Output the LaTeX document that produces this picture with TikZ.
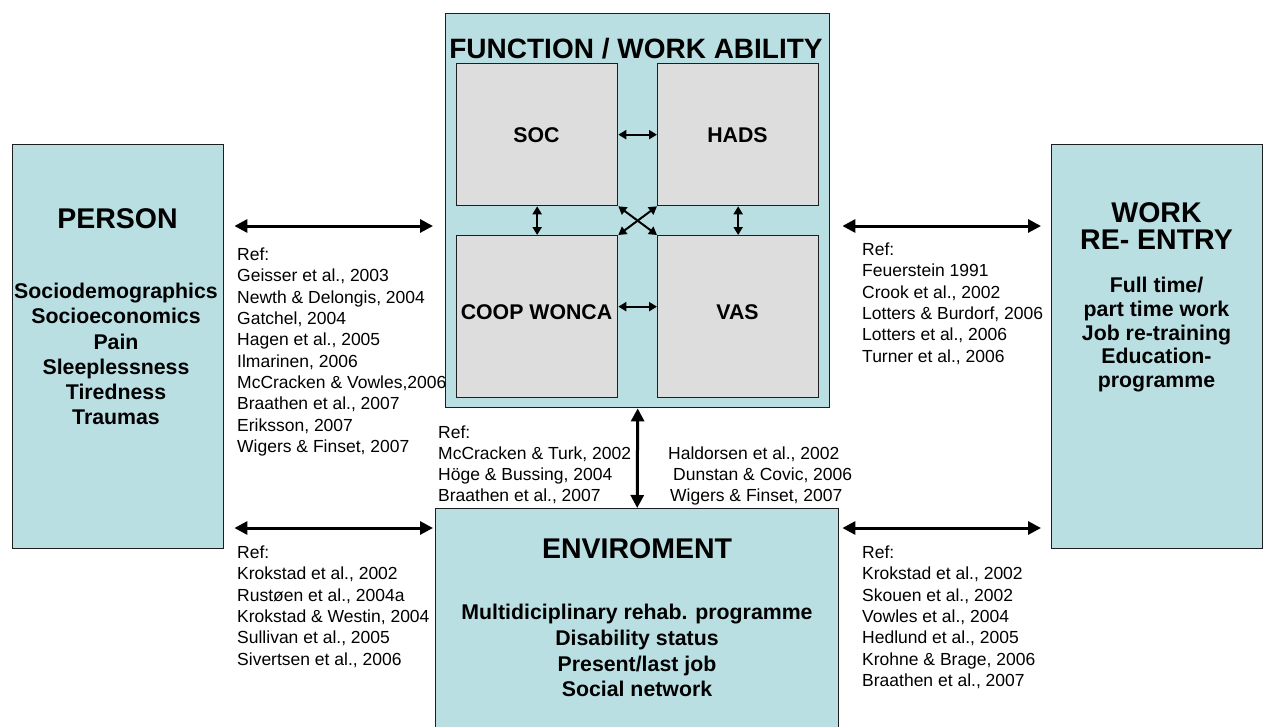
\documentclass[tikz,border=0pt]{standalone}
\usepackage{fontspec}
\setmainfont{Liberation Sans}
\usetikzlibrary{arrows.meta}
\definecolor{boxblue}{RGB}{186,223,227}
\definecolor{boxgray}{RGB}{221,221,221}
\definecolor{edgecol}{RGB}{30,30,30}
\begin{document}
\begin{tikzpicture}[x=1pt,y=-1pt,
  panel/.style={draw=edgecol, line width=1.4pt, fill=boxblue, inner sep=0pt, anchor=north west},
  innerbox/.style={draw=edgecol, line width=1.3pt, fill=boxgray, inner sep=0pt, anchor=north west, minimum width=161pt},
  bigarrow/.style={line width=3pt, {Triangle[length=13pt,width=13pt]}-{Triangle[length=13pt,width=13pt]}},
  smallarrow/.style={line width=2pt, {Triangle[length=8pt,width=9pt]}-{Triangle[length=8pt,width=9pt]}},
  reftext/.style={font=\fontsize{17.5}{21}\selectfont, anchor=base west, inner sep=0pt},
  headtext/.style={font=\bfseries\fontsize{28.5}{33}\selectfont, anchor=base, inner sep=0pt},
  itemtext/.style={font=\bfseries\fontsize{21.3}{25}\selectfont, anchor=base, inner sep=0pt}
]
\useasboundingbox (0,0) rectangle (1263,726);

% main boxes
\node[panel, minimum width=211pt, minimum height=404pt] (person) at (12,144) {};
\node[panel, minimum width=211pt, minimum height=404pt] (work) at (1051,144) {};
\node[panel, minimum width=384pt, minimum height=394pt] (func) at (445,13) {};
\node[panel, minimum width=403pt, minimum height=222pt] (env) at (435,508) {};

% inner boxes
\node[innerbox, minimum height=142pt] (soc) at (456,63) {};
\node[innerbox, minimum height=142pt] (hads) at (657,63) {};
\node[innerbox, minimum height=162pt] (coop) at (456,235) {};
\node[innerbox, minimum height=162pt] (vas) at (657,235) {};

% headings and labels
\node[headtext, font=\bfseries\fontsize{28}{33}\selectfont] (funcT) at (636,58.2) {FUNCTION / WORK ABILITY};
\node[itemtext] (socT) at (536.5,142.5) {SOC};
\node[itemtext] (hadsT) at (737.5,142.5) {HADS};
\node[itemtext] (coopT) at (536.5,319.5) {COOP WONCA};
\node[itemtext] (vasT) at (737.5,319.5) {VAS};

\node[headtext] (personT) at (117.5,228) {PERSON};
\foreach \t [count=\i] in {Sociodemographics, Socioeconomics, Pain, Sleeplessness, Tiredness, Traumas}
  \node[itemtext] (pitem\i) at (116,{298.7+25.2*(\i-1)}) {\t};

\node[headtext] (workT1) at (1156.5,222.4) {WORK};
\node[headtext] (workT2) at (1156.5,249.4) {RE- ENTRY};
\foreach \t [count=\i] in {Full time/, part time work, Job re-training, Education-, programme}
  \node[itemtext] (witem\i) at (1156.5,{292.7+23.75*(\i-1)}) {\t};

\node[headtext] (envT) at (637,558.2) {ENVIROMENT};
\foreach \t [count=\i] in {Multidiciplinary rehab. programme, Disability status, Present/last job, Social network}
  \node[itemtext] (eitem\i) at (637,{619.7+25.7*(\i-1)}) {\t};

% reference lists
\foreach \t [count=\i] in {Ref:, {Geisser et al., 2003}, {Newth \& Delongis, 2004}, {Gatchel, 2004}, {Hagen et al., 2005}, {Ilmarinen, 2006}, {McCracken \& Vowles,2006}, {Braathen et al., 2007}, {Eriksson, 2007}, {Wigers \& Finset, 2007}}
  \node[reftext] (lref\i) at (237,{260.3+21.35*(\i-1)}) {\t};

\foreach \t [count=\i] in {Ref:, Feuerstein 1991, {Crook et al., 2002}, {Lotters \& Burdorf, 2006}, {Lotters et al., 2006}, {Turner et al., 2006}}
  \node[reftext] (rref\i) at (862,{255.3+21.35*(\i-1)}) {\t};

\foreach \t [count=\i] in {Ref:, {McCracken \& Turk, 2002}, {Höge \& Bussing, 2004}, {Braathen et al., 2007}}
  \node[reftext] (mref\i) at (438,{438.5+21*(\i-1)}) {\t};
\node[reftext] (mrefb1) at (668,459.5) {Haldorsen et al., 2002};
\node[reftext] (mrefb2) at (673,480.5) {Dunstan \& Covic, 2006};
\node[reftext] (mrefb3) at (670,501.5) {Wigers \& Finset, 2007};

\foreach \t [count=\i] in {Ref:, {Krokstad et al., 2002}, {Rustøen et al., 2004a}, {Krokstad \& Westin, 2004}, {Sullivan et al., 2005}, {Sivertsen et al., 2006}}
  \node[reftext] (blref\i) at (237,{558.3+21.4*(\i-1)}) {\t};

\foreach \t [count=\i] in {Ref:, {Krokstad et al., 2002}, {Skouen et al., 2002}, {Vowles et al., 2004}, {Hedlund et al., 2005}, {Krohne \& Brage, 2006}, {Braathen et al., 2007}}
  \node[reftext] (brref\i) at (862,{558.3+21.4*(\i-1)}) {\t};

% big connectors
\coordinate (ytop) at (0,226);
\coordinate (ybot) at (0,528);
\draw[bigarrow, shorten <=10pt, shorten >=12pt] (person.east |- ytop) -- (func.west |- ytop);
\draw[bigarrow, shorten <=12pt, shorten >=10pt] (func.east |- ytop) -- (work.west |- ytop);
\draw[bigarrow, shorten <=10pt, shorten >=2pt] (person.east |- ybot) -- (env.west |- ybot);
\draw[bigarrow, shorten <=3pt, shorten >=10pt] (env.east |- ybot) -- (work.west |- ybot);
\draw[bigarrow] (func.south) -- (env.north);

% small connectors
\draw[smallarrow] (soc.east) -- (hads.west);
\draw[smallarrow] ([yshift=10pt]coop.east) -- ([yshift=10pt]vas.west);
\draw[smallarrow] (soc.south) -- (coop.north);
\draw[smallarrow] (hads.south) -- (vas.north);
\draw[smallarrow] (soc.south east) -- (vas.north west);
\draw[smallarrow] (hads.south west) -- (coop.north east);
\end{tikzpicture}
\end{document}
